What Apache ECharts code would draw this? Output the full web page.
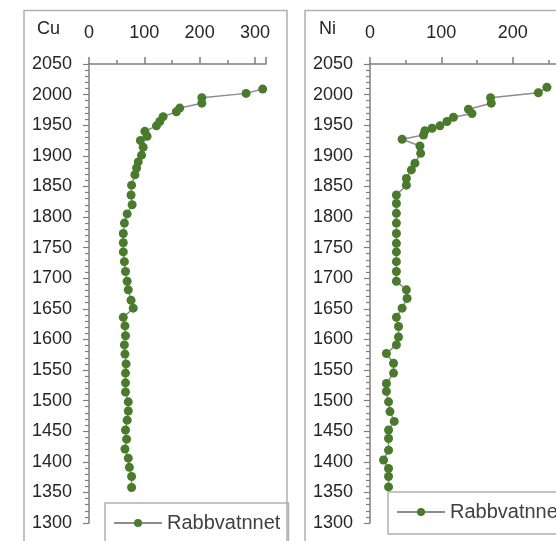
<!DOCTYPE html>
<html>
<head>
<meta charset="utf-8">
<script src="https://cdn.jsdelivr.net/npm/echarts@6/dist/echarts.min.js"></script>
<style>
  html, body { margin: 0; padding: 0; background: #fff; }
  #chart { width: 556px; height: 541px; }
</style>
</head>
<body>
<div id="chart"></div>
<script>
// Cu profile (mg/kg) by year
const cuYears = [2009, 2002, 1995, 1986, 1978, 1972, 1964, 1956, 1949, 1940, 1932, 1925, 1914, 1901,
  1890, 1880, 1869, 1852, 1836, 1820, 1805, 1790, 1773, 1758, 1743, 1727, 1711, 1695, 1681,
  1664, 1651, 1636, 1622, 1606, 1591, 1576, 1560, 1545, 1529, 1514, 1498, 1483, 1468, 1452,
  1437, 1421, 1406, 1391, 1376, 1358]
const cuValues = [314, 284, 204, 204, 164, 158, 134, 128, 122, 101, 105, 93, 98, 95,
  89, 86, 83, 77, 76, 78, 69, 64, 62, 62, 62, 64, 66, 69, 71,
  76, 80, 62, 65, 66, 64, 65, 67, 66, 66, 66, 71, 71, 69, 66,
  68, 65, 71, 73, 77, 77]

// Ni profile (mg/kg) by year
const niYears = [2012, 2003, 1995, 1986, 1976, 1969, 1963, 1956, 1949, 1945, 1941, 1934, 1927, 1916,
  1904, 1888, 1877, 1863, 1852, 1836, 1822, 1806, 1790, 1773, 1757, 1743, 1727, 1711, 1695,
  1681, 1667, 1651, 1636, 1621, 1604, 1591, 1577, 1561, 1545, 1528, 1515, 1498, 1482, 1466,
  1452, 1438, 1419, 1403, 1389, 1376, 1359]
const niValues = [248, 236, 169, 170, 138, 143, 117, 108, 98, 87, 77, 75, 45, 70,
  71, 63, 58, 51, 51, 37, 37, 37, 37, 37, 37, 37, 37, 37, 37,
  51, 52, 45, 37, 40, 40, 37, 23, 33, 33, 23, 23, 26, 28, 34,
  26, 26, 26, 19, 26, 26, 26]

const seriesName = 'Rabbvatnnet'
const textColor = '#262626'
const axisColor = '#7f7f7f'
const fontFamily = '"Liberation Sans", Arial, sans-serif'

const chart = echarts.init(document.getElementById('chart'))

const plain = (v) => String(v)

const makeXAxis = (gridIndex, max) => ({
  type: 'value',
  gridIndex: gridIndex,
  position: 'top',
  min: 0,
  max: max,
  interval: 100,
  axisLine: { show: true, lineStyle: { color: axisColor, width: 1.5 } },
  axisTick: { show: true, inside: false, length: 7, lineStyle: { color: axisColor, width: 1.5 } },
  minorTick: { show: true, splitNumber: 2, length: 4, lineStyle: { color: axisColor, width: 1.5 } },
  axisLabel: { color: textColor, fontSize: 18, fontFamily: fontFamily, margin: 22, formatter: plain },
  splitLine: { show: false },
})

const makeYAxis = (gridIndex) => ({
  type: 'value',
  gridIndex: gridIndex,
  min: 1300,
  max: 2050,
  interval: 50,
  axisLine: { show: true, lineStyle: { color: axisColor, width: 1.5 } },
  axisTick: { show: true, inside: false, length: 6, lineStyle: { color: axisColor, width: 1.2 } },
  minorTick: { show: true, splitNumber: 5, length: 4, lineStyle: { color: axisColor, width: 1.2 } },
  axisLabel: { color: textColor, fontSize: 18, fontFamily: fontFamily, margin: 17, formatter: plain },
  splitLine: { show: false },
})

const makeSeries = (idx, years, values) => ({
  name: seriesName,
  type: 'line',
  xAxisIndex: idx,
  yAxisIndex: idx,
  data: values.map((v, i) => [v, years[i]]),
  symbol: 'circle',
  symbolSize: 9,
  showSymbol: true,
  itemStyle: { color: '#4a7a2c' },
  lineStyle: { color: '#8c8c8c', width: 1.5 },
  animation: false,
})

const makeLegend = (left, top) => ({
  left: left,
  top: top,
  data: [seriesName],
  itemWidth: 48,
  itemHeight: 10,
  itemGap: 0,
  padding: [10, 8, 12, 8],
  borderColor: '#b0b0b0',
  borderWidth: 1.5,
  textStyle: { color: '#404040', fontSize: 20, fontFamily: fontFamily },
})

const option = {
  backgroundColor: '#ffffff',
  animation: false,
  grid: [
    { left: 89, top: 64, width: 177, height: 459, outerBoundsMode: 'none' },
    { left: 370, top: 64, width: 214, height: 459, outerBoundsMode: 'none' },
  ],
  xAxis: [makeXAxis(0, 320), makeXAxis(1, 300)],
  yAxis: [makeYAxis(0), makeYAxis(1)],
  legend: [makeLegend(105, 503), makeLegend(388, 492)],
  graphic: [
    // panel frames
    { type: 'rect', shape: { x: 24, y: 10.5, width: 263, height: 600 }, style: { fill: 'none', stroke: '#b0b0b0', lineWidth: 1.5 } },
    { type: 'rect', shape: { x: 305, y: 10.5, width: 300, height: 600 }, style: { fill: 'none', stroke: '#b0b0b0', lineWidth: 1.5 } },
    // panel titles
    { type: 'text', left: 37, top: 20, style: { text: 'Cu', fill: textColor, font: '18px ' + fontFamily } },
    { type: 'text', left: 319, top: 20, style: { text: 'Ni', fill: textColor, font: '18px ' + fontFamily } },
  ],
  series: [
    makeSeries(0, cuYears, cuValues),
    makeSeries(1, niYears, niValues),
  ],
}

chart.setOption(option)
</script>
</body>
</html>
